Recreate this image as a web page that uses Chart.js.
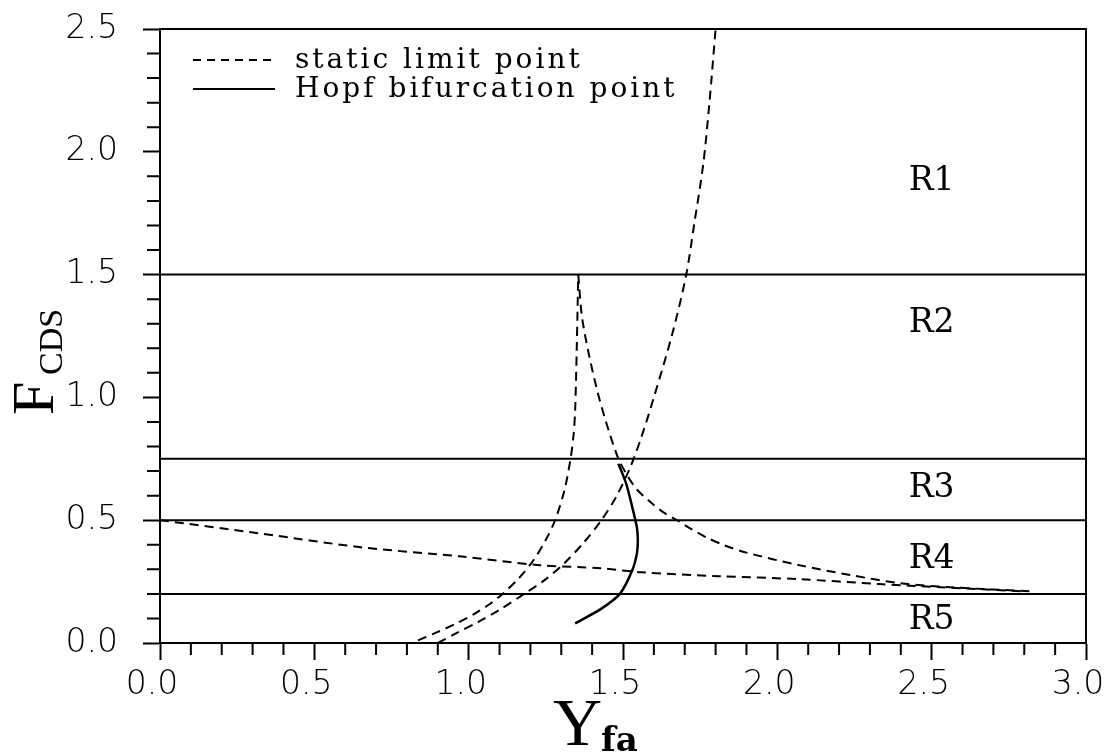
<!DOCTYPE html>
<html>
<head>
<meta charset="utf-8">
<script src="https://cdn.jsdelivr.net/npm/chart.js@4.4.1/dist/chart.umd.min.js"></script>
<style>
  html, body { margin: 0; padding: 0; background: #fff; }
  #wrap { width: 1105px; height: 753px; }
</style>
</head>
<body>
<div id="wrap"><canvas id="chart" width="1105" height="753"></canvas></div>
<script>
// static limit point, cusp curve: branch going up to the cusp
const cuspUpX = [0.836, 0.90, 0.96, 1.02, 1.07, 1.11, 1.16, 1.21, 1.25, 1.28, 1.31, 1.33, 1.34, 1.345, 1.35, 1.355];
const cuspUpY = [0.011, 0.045, 0.08, 0.12, 0.16, 0.2, 0.26, 0.337, 0.42, 0.5, 0.62, 0.75, 0.85, 0.95, 1.19, 1.5];
// cusp curve: branch coming down from the cusp to the right
const cuspDownX = [1.355, 1.367, 1.387, 1.416, 1.445, 1.485, 1.515, 1.545, 1.588, 1.63, 1.675, 1.72, 1.77, 1.83, 1.90, 2.07, 2.24, 2.40, 2.56, 2.83];
const cuspDownY = [1.5, 1.33, 1.19, 1.03, 0.9, 0.75, 0.68, 0.625, 0.575, 0.533, 0.5, 0.465, 0.43, 0.397, 0.368, 0.317, 0.276, 0.243, 0.227, 0.21];
// static limit point, outer curve reaching the top
const outerX = [0.90, 0.96, 1.03, 1.10, 1.18, 1.25, 1.31, 1.37, 1.43, 1.48, 1.525, 1.56, 1.60, 1.66, 1.705, 1.73, 1.76, 1.78, 1.80];
const outerY = [0.0, 0.04, 0.085, 0.135, 0.2, 0.26, 0.325, 0.405, 0.5, 0.6, 0.72, 0.84, 1.0, 1.26, 1.5, 1.7, 1.95, 2.2, 2.5];
// static limit point, low curve starting at F = 0.5
const lowX = [0, 0.32, 0.65, 0.97, 1.23, 1.43, 1.56, 1.81, 2.07, 2.33, 2.53, 2.80];
const lowY = [0.5, 0.447, 0.39, 0.353, 0.317, 0.304, 0.288, 0.272, 0.26, 0.24, 0.227, 0.21];
// Hopf bifurcation point
const hopfX = [1.345, 1.43, 1.49, 1.53, 1.545, 1.548, 1.545, 1.53, 1.51, 1.485];
const hopfY = [0.08, 0.14, 0.2, 0.296, 0.365, 0.42, 0.47, 0.553, 0.65, 0.73];

// region boundaries and names
const boundaryY = [1.5, 0.75, 0.5, 0.2];
const regionNames = ['R1', 'R2', 'R3', 'R4', 'R5'];
const regionY = [1.88, 1.3, 0.63, 0.34, 0.09];
const regionX = 2.5;

const xMin = 0, xMax = 3, yMin = 0, yMax = 2.5;
const majorStep = 0.5, minorStep = 0.1;

const legendItems = ['static limit point', 'Hopf bifurcation point'];

const pts = (xs, ys) => xs.map((v, i) => ({ x: v, y: ys[i] }));

const dash = [9, 6];
const datasets = [];
boundaryY.forEach(b => {
  datasets.push({ data: pts([xMin, xMax], [b, b]), borderColor: '#000', borderWidth: 2 });
});
datasets.push({ data: pts(cuspUpX, cuspUpY), borderColor: '#000', borderWidth: 2, borderDash: dash, tension: 0.3 });
datasets.push({ data: pts(cuspDownX, cuspDownY), borderColor: '#000', borderWidth: 2, borderDash: dash, tension: 0.3 });
datasets.push({ data: pts(outerX, outerY), borderColor: '#000', borderWidth: 2, borderDash: dash, tension: 0.3 });
datasets.push({ data: pts(lowX, lowY), borderColor: '#000', borderWidth: 2, borderDash: dash, tension: 0.3 });
datasets.push({ data: pts(hopfX, hopfY), borderColor: '#000', borderWidth: 2.5, tension: 0.3 });

const tickFont = { family: 'DejaVu Sans', size: 33, weight: 200 };

const decorations = {
  id: 'decorations',
  afterDatasetsDraw(chart) {
    const { ctx, chartArea: a, scales: { x, y } } = chart;
    ctx.save();
    ctx.strokeStyle = '#000';
    ctx.fillStyle = '#000';
    ctx.lineWidth = 2;
    ctx.strokeRect(a.left, a.top, a.right - a.left, a.bottom - a.top);

    // minor ticks
    ctx.beginPath();
    for (let i = 1; i < Math.round(xMax / minorStep); i++) {
      if (i % 5 === 0) continue;
      const px = x.getPixelForValue(i * minorStep);
      ctx.moveTo(px, a.bottom);
      ctx.lineTo(px, a.bottom + 12);
    }
    for (let i = 1; i < Math.round(yMax / minorStep); i++) {
      if (i % 5 === 0) continue;
      const py = y.getPixelForValue(i * minorStep);
      ctx.moveTo(a.left, py);
      ctx.lineTo(a.left - 13, py);
    }
    ctx.stroke();

    // region names
    ctx.font = '33px "DejaVu Serif"';
    ctx.textAlign = 'center';
    ctx.textBaseline = 'middle';
    regionNames.forEach((r, i) => {
      ctx.fillText(r, x.getPixelForValue(regionX), y.getPixelForValue(regionY[i]));
    });

    // legend inside plot, top left
    ctx.textAlign = 'left';
    ctx.font = '28px "DejaVu Serif"';
    if ('letterSpacing' in ctx) ctx.letterSpacing = '3px';
    legendItems.forEach((t, i) => {
      const ly = a.top + 31 + i * 29;
      ctx.beginPath();
      ctx.setLineDash(i === 0 ? [8, 6] : []);
      ctx.lineWidth = 2;
      ctx.moveTo(a.left + 33, ly);
      ctx.lineTo(a.left + 115, ly);
      ctx.stroke();
      ctx.setLineDash([]);
      ctx.fillText(t, a.left + 135, ly + 1);
    });
    if ('letterSpacing' in ctx) ctx.letterSpacing = '0px';

    // x axis title: Y_fa
    ctx.textBaseline = 'alphabetic';
    const cx = (a.left + a.right) / 2;
    ctx.font = '68px "Liberation Serif"';
    ctx.fillText('Y', cx - 70, 745);
    ctx.font = 'bold 34px "DejaVu Serif"';
    ctx.fillText('fa', cx - 22, 751);

    // y axis title: F_CDS (rotated)
    const cy = (a.top + a.bottom) / 2;
    ctx.save();
    ctx.translate(53, cy + 79);
    ctx.rotate(-Math.PI / 2);
    ctx.font = '60px "Liberation Serif"';
    ctx.fillText('F', 0, 0);
    ctx.restore();
    ctx.save();
    ctx.translate(62, cy + 39);
    ctx.rotate(-Math.PI / 2);
    ctx.font = '34px "Liberation Serif"';
    ctx.fillText('CDS', 0, 0);
    ctx.restore();

    ctx.restore();
  }
};

new Chart(document.getElementById('chart'), {
  type: 'line',
  data: { datasets },
  options: {
    responsive: false,
    animation: false,
    devicePixelRatio: 1,
    layout: { padding: { top: 29, right: 19, left: 0, bottom: 0 } },
    elements: { point: { radius: 0 } },
    plugins: { legend: { display: false }, tooltip: { enabled: false } },
    scales: {
      x: {
        type: 'linear', min: xMin, max: xMax,
        ticks: { stepSize: majorStep, callback: v => v.toFixed(1), font: tickFont, color: '#000', padding: 6, labelOffset: -8, maxRotation: 0 },
        grid: { drawOnChartArea: false, drawTicks: true, tickLength: 17, tickWidth: 2, tickColor: '#000' },
        border: { display: true, color: '#000', width: 2 },
        afterFit(s) { s.height = 110; s.paddingLeft = 0; s.paddingRight = 0; }
      },
      y: {
        type: 'linear', min: yMin, max: yMax,
        ticks: { stepSize: majorStep, callback: v => v.toFixed(1), font: tickFont, color: '#000', padding: 25 },
        grid: { drawOnChartArea: false, drawTicks: true, tickLength: 17, tickWidth: 2, tickColor: '#000' },
        border: { display: true, color: '#000', width: 2 },
        afterFit(s) { s.width = 160; s.paddingTop = 0; s.paddingBottom = 0; }
      }
    }
  },
  plugins: [decorations]
});
</script>
</body>
</html>
